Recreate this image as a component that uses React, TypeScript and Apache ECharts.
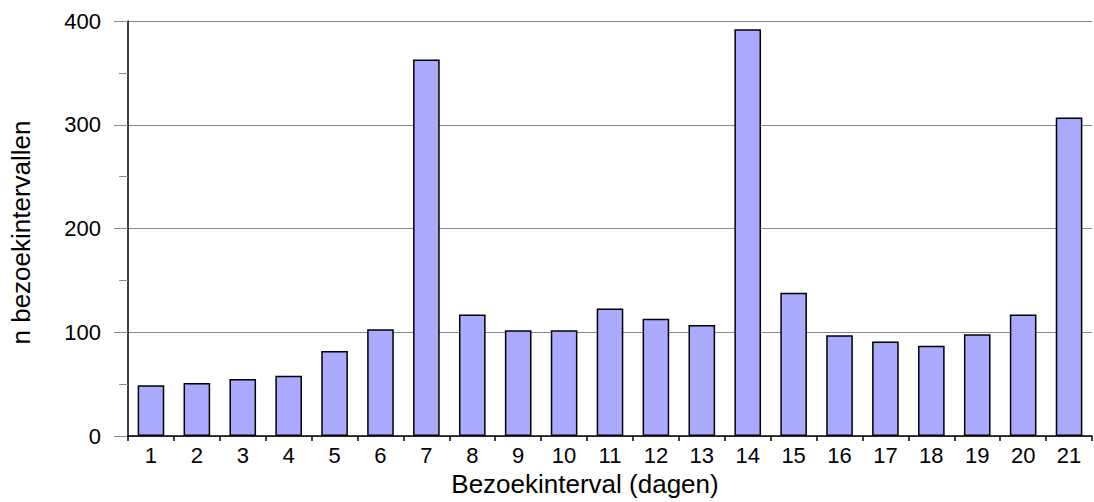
import React, { useEffect, useRef } from "react";
import * as echarts from "echarts";

const categories = ["1","2","3","4","5","6","7","8","9","10","11","12","13","14","15","16","17","18","19","20","21"];
const counts = [49, 51, 55, 58, 82, 103, 363, 117, 102, 102, 123, 113, 107, 392, 138, 97, 91, 87, 98, 117, 307];
const yTicks = { min: 0, max: 400, interval: 100 };
const xName = "Bezoekinterval (dagen)";
const yName = "n bezoekintervallen";

export default function App() {
  const ref = useRef<HTMLDivElement>(null);
  useEffect(() => {
    if (!ref.current) return;
    const chart = echarts.init(ref.current, undefined, { renderer: "svg" });
    const font = "'Liberation Sans', Arial, Helvetica, sans-serif";
    chart.setOption({
      animation: false,
      backgroundColor: "#ffffff",
      textStyle: { fontFamily: font },
      grid: { left: 128, right: 2, top: 21, bottom: 66, containLabel: false },
      xAxis: {
        type: "category",
        data: categories,
        boundaryGap: true,
        name: xName,
        nameLocation: "middle",
        nameGap: 30,
        nameTextStyle: { fontSize: 26, color: "#000", fontFamily: font, padding: [0, 50, 0, 0] },
        axisLine: { lineStyle: { color: "#000", width: 1.5 } },
        axisTick: { show: true, interval: 0, alignWithLabel: false, length: 5, lineStyle: { color: "#000", width: 1.5 } },
        axisLabel: { interval: 0, fontSize: 22, color: "#000", margin: 8, fontFamily: font },
        splitLine: { show: false },
      },
      yAxis: {
        type: "value",
        min: yTicks.min,
        max: yTicks.max,
        interval: yTicks.interval,
        name: yName,
        nameLocation: "middle",
        nameGap: 94,
        nameTextStyle: { fontSize: 26, color: "#000", fontFamily: font, padding: [0, 8, 0, 0] },
        axisLine: { show: true, lineStyle: { color: "#000", width: 1.5 } },
        axisTick: { show: true, length: 14, lineStyle: { color: "#888", width: 1 } },
        minorTick: { show: true, splitNumber: 2, length: 9, lineStyle: { color: "#888", width: 1 } },
        axisLabel: { fontSize: 22, color: "#000", margin: 27, fontFamily: font },
        splitLine: { show: true, lineStyle: { color: "#888", width: 1 } },
      },
      series: [
        {
          type: "bar",
          data: counts,
          barWidth: "58%",
          itemStyle: { color: "#aaaaff", borderColor: "#000", borderWidth: 1.5 },
        },
      ],
    });
    return () => chart.dispose();
  }, []);
  return (
    <div
      ref={ref}
      style={{ position: "fixed", left: 0, top: 0, width: 1094, height: 502 }}
    />
  );
}
